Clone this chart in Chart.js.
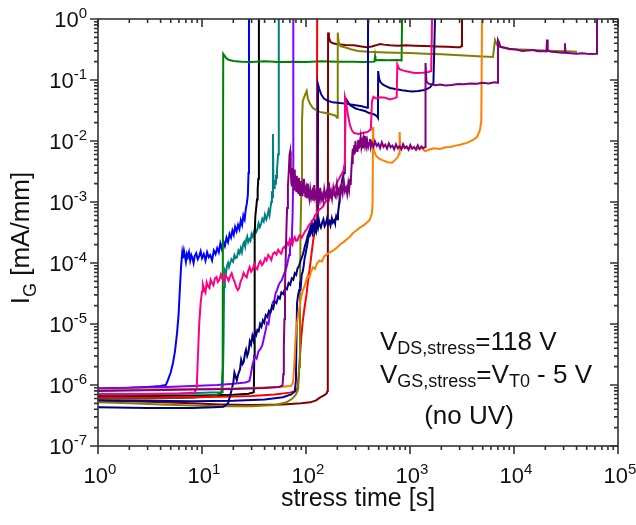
<!DOCTYPE html>
<html>
<head>
<meta charset="utf-8">
<script src="https://cdn.jsdelivr.net/npm/chart.js@4.4.1/dist/chart.umd.min.js"></script>
<style>
	html, body { margin: 0; padding: 0; background: #fff; }
</style>
</head>
<body>
<canvas id="myChart" width="636" height="525"></canvas>
<script>
// gate current vs. stress time, one [t (s), I_G (mA/mm)] list per device
const runBlue = [[1, 8.8e-7], [1.5, 8.9e-7], [2, 9.0e-7], [3, 9.3e-7], [4, 9.6e-7], [4.5, 1.0e-6], [4.7, 1.2e-6], [5.0, 1.6e-6], [5.26, 2.3e-6], [5.5, 3.6e-6], [5.75, 7e-6], [5.95, 1.4e-5], [6.14, 4e-5], [6.3, 9e-5], [6.45, 1.45e-4], [6.55, 1.2e-4], [6.7, 1.6e-4], [6.85, 1.3e-4], [7.0, 1.05e-4], [7.15, 1.4e-4], [7.3, 1.25e-4], [7.5, 1.5e-4], [7.7, 1.1e-4], [7.9, 1.35e-4], [8.1, 1.2e-4], [8.3, 1.0e-4], [8.5, 1.3e-4], [8.8, 1.45e-4], [9.1, 1.15e-4], [9.4, 1.3e-4], [9.7, 1.55e-4], [10.0, 1.2e-4], [10.4, 1.4e-4], [10.8, 1.1e-4], [11.2, 1.5e-4], [11.6, 1.25e-4], [12.0, 1.35e-4], [12.5, 1.1e-4], [13.0, 1.6e-4], [13.5, 1.4e-4], [14.0, 1.75e-4], [14.5, 1.5e-4], [15.0, 2.1e-4], [15.5, 1.7e-4], [16.0, 2.3e-4], [16.6, 1.9e-4], [17.2, 2.6e-4], [17.8, 2.2e-4], [18.4, 3.0e-4], [19.0, 2.6e-4], [19.6, 3.4e-4], [20.2, 2.9e-4], [20.8, 3.9e-4], [21.5, 3.3e-4], [22.2, 4.2e-4], [22.9, 3.6e-4], [23.6, 5.0e-4], [24.3, 4.2e-4], [25.0, 6.0e-4], [25.7, 5.2e-4], [26.4, 7.8e-4], [27.0, 9.5e-4], [27.6, 1.3e-3], [28.0, 3e-3], [28.3, 1]];
const runBlack = [[1, 6.6e-7], [3, 6.6e-7], [10, 6.7e-7], [20, 6.9e-7], [28, 7.2e-7], [31.5, 7.6e-7], [31.8, 3e-6], [32.0, 8e-5], [32.2, 3e-4], [32.6, 6e-4], [33.2, 8e-4], [33.8, 1.1e-3], [34.3, 1.6e-3], [34.8, 2.4e-3], [35.2, 5e-3], [35.3, 1]];
const runTeal = [[1, 7.2e-7], [3, 7.2e-7], [8, 7.3e-7], [12, 7.5e-7], [15.8, 7.6e-7], [16.1, 5e-6], [16.3, 4e-5], [16.6, 7.5e-5], [17.0, 6.8e-5], [17.4, 9.0e-5], [17.8, 1.0e-4], [18.2, 8.6e-5], [18.6, 9.8e-5], [19.2, 1.15e-4], [19.9, 1.05e-4], [20.5, 1.35e-4], [21.1, 1.2e-4], [21.7, 1.25e-4], [22.4, 1.6e-4], [23.0, 1.45e-4], [23.6, 1.75e-4], [24.2, 1.5e-4], [24.8, 2.0e-4], [25.4, 2.2e-4], [26.0, 1.85e-4], [26.6, 2.4e-4], [27.2, 2.7e-4], [27.8, 2.2e-4], [28.5, 2.45e-4], [29.2, 2.3e-4], [30.0, 3.0e-4], [30.8, 2.7e-4], [31.6, 3.2e-4], [32.3, 3.7e-4], [33.1, 3.2e-4], [34.0, 3.5e-4], [35.0, 4.5e-4], [36.0, 3.9e-4], [37.0, 4.4e-4], [38.0, 5.3e-4], [39.2, 4.8e-4], [40.3, 6.2e-4], [41.5, 5.2e-4], [42.6, 6.0e-4], [43.6, 7.2e-4], [44.6, 6.1e-4], [45.5, 8.0e-4], [46.3, 1.0e-3], [47.0, 1.5e-3], [47.6, 1.2e-3], [48.1, 1.3e-2], [48.6, 2e-3], [49.3, 1.7e-3], [50.0, 2.3e-3], [50.7, 2.0e-3], [51.4, 2.8e-3], [52.0, 2.5e-3], [52.6, 3.5e-3], [53.2, 4.2e-3], [53.8, 6e-3], [54.5, 9e-3], [55.0, 1]];
const runGreen = [[1, 6.0e-7], [3, 6.0e-7], [8, 6.2e-7], [13, 6.6e-7], [15.4, 7.5e-7], [15.8, 2e-6], [16.0, 0.27], [16.4, 0.255], [17.0, 0.23], [18.0, 0.215], [20, 0.205], [24, 0.2], [30, 0.198], [40, 0.202], [55, 0.197], [75, 0.2], [100, 0.198], [140, 0.202], [200, 0.199], [280, 0.2], [360, 0.198], [455, 0.2], [461, 0.245], [466, 0.21], [520, 0.212], [620, 0.21], [740, 0.212], [830, 0.21], [838, 1]];
const runViolet = [[1, 8.8e-7], [2, 9.0e-7], [4, 9.2e-7], [8, 9.6e-7], [14, 1.0e-6], [20, 1.05e-6], [26, 1.1e-6], [28.5, 1.15e-6], [29.5, 1.5e-6], [30.5, 2.1e-6], [31.5, 2.6e-6], [32.3, 2.9e-6], [33.5, 2.7e-6], [35, 3.6e-6], [36.5, 3.9e-6], [38, 4.5e-6], [39.5, 6e-6], [41, 8e-6], [42.2, 1.05e-5], [43.6, 1.0e-5], [45.1, 1.5e-5], [46.6, 1.7e-5], [48, 2.3e-5], [49.5, 2.4e-5], [51, 3.2e-5], [52.6, 3.6e-5], [54.5, 4.3e-5], [56.2, 4.8e-5], [58.5, 5.2e-5], [61.4, 6.6e-5], [63.5, 7.5e-5], [65.5, 9e-5], [67.1, 1.1e-4], [68.8, 1.35e-4], [70.1, 1.7e-4], [71.8, 2.3e-4], [73.3, 3.0e-4], [74.3, 6e-4], [75.2, 2e-3], [75.5, 1]];
const runPink = [[1, 7.0e-7], [2, 7.0e-7], [4, 7.1e-7], [6, 7.2e-7], [8.5, 7.5e-7], [8.9, 9e-7], [9.1, 2.5e-6], [9.4, 1.0e-5], [9.7, 2.2e-5], [10.0, 3.4e-5], [10.2, 4.4e-5], [10.5, 3.7e-5], [10.8, 3.3e-5], [11.1, 4.8e-5], [11.4, 4.2e-5], [11.8, 3.9e-5], [12.1, 5.3e-5], [12.5, 4.7e-5], [12.9, 4.3e-5], [13.3, 5.6e-5], [13.8, 5.9e-5], [14.2, 4.9e-5], [14.7, 5.3e-5], [15.2, 6.5e-5], [15.7, 5.5e-5], [16.3, 5.0e-5], [16.8, 6.3e-5], [17.4, 5.8e-5], [18.0, 5.1e-5], [18.6, 6.0e-5], [19.3, 6.8e-5], [20.0, 5.5e-5], [20.7, 4.8e-5], [21.4, 4.0e-5], [22.1, 3.6e-5], [22.8, 3.9e-5], [23.5, 5.0e-5], [24.3, 5.6e-5], [25.1, 6.9e-5], [26.0, 6.2e-5], [26.9, 5.8e-5], [27.8, 7.4e-5], [28.7, 8.6e-5], [29.7, 7.2e-5], [30.7, 7.8e-5], [31.8, 9.6e-5], [32.9, 8.3e-5], [34.0, 7.9e-5], [35.2, 9.8e-5], [36.4, 1.08e-4], [37.7, 9.2e-5], [39.0, 1.0e-4], [40.4, 1.2e-4], [41.8, 1.1e-4], [43.3, 1.35e-4], [44.8, 1.25e-4], [46.4, 1.12e-4], [48.0, 1.4e-4], [50.0, 1.5e-4], [52.0, 1.38e-4], [54.0, 1.65e-4], [56.0, 1.5e-4], [58.0, 1.42e-4], [60.0, 1.75e-4], [62.0, 1.85e-4], [64.0, 1.7e-4], [66.0, 2.15e-4], [68.0, 2.0e-4], [70.0, 2.45e-4], [72.0, 2.2e-4], [74.0, 2.0e-4], [76.0, 2.4e-4], [78.0, 2.65e-4], [80.5, 2.3e-4], [83.0, 2.35e-4], [85.5, 2.75e-4], [88.0, 2.85e-4], [91.0, 2.6e-4], [95.0, 3.0e-4], [98.0, 3.3e-4], [102, 3.6e-4], [106, 4.1e-4], [110, 4.4e-4], [114, 4.9e-4], [118, 5.2e-4], [122, 6.0e-4], [127, 6.5e-4], [131, 7.2e-4], [136, 7.6e-4], [141, 8.0e-4], [146, 8.5e-4], [152, 9.8e-4], [158, 1.05e-3], [164, 1.12e-3], [170, 1.2e-3], [176, 1.38e-3], [182, 1.5e-3], [188, 1.7e-3], [195, 1.9e-3], [202, 2.2e-3], [208, 2.4e-3], [213, 2.6e-3], [218, 2.8e-3], [223, 3.0e-3], [227, 3.2e-3], [231, 3.6e-3], [234, 4.0e-3], [237, 0.052], [242, 0.045], [252, 0.028], [265, 0.018], [276, 0.015], [290, 0.0135], [320, 0.013], [350, 0.0135], [390, 0.014], [420, 0.0155], [431, 0.045], [445, 0.053], [470, 0.05], [520, 0.052], [580, 0.051], [642, 0.048], [700, 0.05], [745, 0.052], [755, 0.18], [790, 0.15], [900, 0.14], [1100, 0.13], [1334, 0.131], [1500, 0.135], [1600, 0.14], [1629, 1]];
const runPurple = [[1, 8.0e-7], [3, 8.2e-7], [8, 8.4e-7], [20, 8.6e-7], [40, 8.9e-7], [55, 9.3e-7], [59.5, 9.8e-7], [60.5, 1.5e-6], [61.2, 4e-6], [62, 1.2e-5], [62.8, 4e-5], [63.8, 1.2e-4], [64.8, 3.5e-4], [65.8, 8e-4], [67, 1.8e-3], [68.3, 3.2e-3], [69.5, 6e-3], [70.5, 6.8e-3], [71.0, 3.0e-3], [71.6, 4.1e-3], [72.1, 2.2e-3], [72.8, 2.9e-3], [73.3, 1.8e-3], [74.0, 3.6e-3], [74.6, 2.4e-3], [75.2, 2.0e-3], [76.0, 2.8e-3], [76.7, 1.6e-3], [77.5, 2.3e-3], [78.2, 3.4e-3], [79.0, 1.9e-3], [79.8, 2.2e-3], [80.7, 1.5e-3], [81.6, 2.7e-3], [82.5, 1.7e-3], [83.4, 2.0e-3], [84.4, 1.4e-3], [85.4, 2.5e-3], [86.5, 1.6e-3], [87.6, 1.3e-3], [88.7, 2.2e-3], [90, 1.5e-3], [91.3, 1.8e-3], [92.6, 1.25e-3], [94, 2.4e-3], [95.5, 1.4e-3], [97, 1.7e-3], [98.6, 1.2e-3], [100.3, 1.55e-3], [102, 1.15e-3], [104, 2.0e-3], [106, 1.3e-3], [108, 1.1e-3], [110, 1.6e-3], [112.5, 1.2e-3], [115, 1.45e-3], [117.5, 1.05e-3], [120, 1.9e-3], [122.5, 1.2e-3], [125, 1.4e-3], [128, 1.0e-3], [131, 1.5e-3], [134, 1.15e-3], [137, 1.7e-3], [140, 1.1e-3], [143, 1.3e-3], [146.5, 1.05e-3], [150, 1.6e-3], [154, 1.2e-3], [158, 1.45e-3], [162, 1.1e-3], [166, 2.1e-3], [170, 1.25e-3], [174, 1.5e-3], [178, 1.15e-3], [183, 1.7e-3], [188, 1.3e-3], [193, 1.2e-3], [198, 1.9e-3], [203, 1.35e-3], [208, 1.6e-3], [213, 1.2e-3], [219, 1.8e-3], [225, 1.4e-3], [231, 2.2e-3], [237, 1.5e-3], [243, 1.7e-3], [249, 1.35e-3], [255, 2.0e-3], [260, 1.6e-3], [265, 2.4e-3], [269, 1.9e-3], [273, 3.4e-3], [277, 5.0e-3], [280, 4.2e-3], [283, 7.5e-3], [287, 5.8e-3], [291, 8.6e-3], [295, 6.2e-3], [299, 1.0e-2], [303, 7.0e-3], [308, 8.4e-3], [313, 6.6e-3], [318, 1.05e-2], [323, 7.5e-3], [329, 9.0e-3], [335, 1.15e-2], [341, 8.0e-3], [347, 9.6e-3], [353, 7.6e-3], [360, 1.1e-2], [367, 8.8e-3], [374, 1.2e-2], [381, 8.4e-3], [388, 1.0e-2], [396, 8.0e-3], [404, 9.2e-3], [412, 1.08e-2], [420, 7.9e-3], [430, 9.4e-3], [445, 8.1e-3], [460, 9.9e-3], [478, 8.3e-3], [497, 9.0e-3], [516, 7.7e-3], [536, 9.5e-3], [557, 8.0e-3], [579, 8.7e-3], [602, 7.5e-3], [626, 9.1e-3], [651, 7.9e-3], [677, 8.4e-3], [704, 7.3e-3], [732, 8.8e-3], [762, 7.6e-3], [793, 8.2e-3], [825, 7.3e-3], [858, 8.9e-3], [893, 7.7e-3], [930, 8.1e-3], [968, 7.2e-3], [1008, 8.6e-3], [1050, 7.5e-3], [1095, 8.0e-3], [1140, 7.2e-3], [1188, 8.5e-3], [1238, 7.4e-3], [1290, 8.1e-3], [1345, 7.6e-3], [1400, 8.0e-3], [1410, 0.19], [1440, 0.095], [1500, 0.087], [1600, 0.085], [1750, 0.082], [1950, 0.084], [2200, 0.081], [2500, 0.083], [2900, 0.086], [3300, 0.085], [3800, 0.088], [4400, 0.087], [5000, 0.09], [5700, 0.088], [6500, 0.092], [6950, 0.09], [7016, 0.45], [7150, 0.42], [7400, 0.35], [8000, 0.34], [9000, 0.325], [10500, 0.315], [12000, 0.3], [13500, 0.305], [15230, 0.31], [17000, 0.295], [19000, 0.3], [20500, 0.295], [20770, 0.46], [21100, 0.3], [23000, 0.29], [26000, 0.285], [29000, 0.28], [30600, 0.28], [30900, 0.4], [31300, 0.28], [35000, 0.275], [40000, 0.27], [45000, 0.275], [50000, 0.27], [56000, 0.268], [61500, 0.27], [62800, 1]];
const runOlive = [[1, 5.2e-7], [2, 5.0e-7], [4, 4.8e-7], [8, 4.6e-7], [15, 4.5e-7], [30, 4.5e-7], [50, 4.7e-7], [65, 5.2e-7], [74, 6.0e-7], [80, 7.0e-7], [84, 8.5e-7], [86, 2e-6], [87.5, 3e-5], [88.5, 3e-4], [90, 1.3e-3], [91.5, 0.02], [93, 0.045], [97, 0.055], [101.6, 0.066], [104, 0.05], [109, 0.041], [116, 0.035], [125, 0.032], [135, 0.030], [150, 0.029], [165, 0.028], [180, 0.027], [192, 0.026], [199, 0.024], [202, 0.6], [206, 0.42], [214, 0.36], [240, 0.34], [270, 0.32], [316, 0.30], [400, 0.29], [500, 0.285], [700, 0.28], [1000, 0.277], [1400, 0.27], [2000, 0.265], [3000, 0.255], [4500, 0.245], [6280, 0.238], [6567, 0.45], [6900, 0.37], [7333, 0.35], [9000, 0.32], [12000, 0.315], [15230, 0.31], [19000, 0.305], [25000, 0.3], [32000, 0.295], [40360, 0.29]];
const runOrange = [[1, 8.2e-7], [3, 8.4e-7], [8, 8.6e-7], [20, 8.8e-7], [40, 9.1e-7], [60, 9.4e-7], [72, 9.7e-7], [75, 1.1e-6], [77, 2e-6], [79, 5e-6], [81, 9e-6], [84, 1.4e-5], [87.5, 2.1e-5], [90, 2.8e-5], [93.6, 3.6e-5], [97, 4.2e-5], [100, 5.0e-5], [104, 6.2e-5], [108, 5.8e-5], [112, 7.3e-5], [117, 8.5e-5], [122, 8.0e-5], [128, 1.0e-4], [135, 1.1e-4], [142, 1.05e-4], [150, 1.3e-4], [160, 1.4e-4], [170, 1.5e-4], [182, 1.6e-4], [199, 1.8e-4], [215, 2.05e-4], [230, 2.2e-4], [250, 2.5e-4], [265, 2.7e-4], [283, 3.1e-4], [305, 3.4e-4], [330, 3.8e-4], [355, 4.1e-4], [386, 4.6e-4], [410, 5.1e-4], [431, 6.6e-4], [437, 1.0e-3], [441, 0.017], [444, 0.008], [452, 0.0068], [470, 0.0058], [500, 0.0052], [550, 0.0048], [610, 0.0045], [671, 0.0044], [720, 0.0049], [767, 0.0055], [785, 0.0062], [795, 0.014], [805, 0.0078], [838, 0.0076], [900, 0.0079], [980, 0.0074], [1060, 0.0078], [1167, 0.0073], [1280, 0.0077], [1400, 0.0068], [1520, 0.0072], [1700, 0.0076], [1942, 0.0074], [2200, 0.0079], [2425, 0.0080], [2750, 0.0084], [3025, 0.0087], [3535, 0.0093], [4035, 0.0104], [4407, 0.0116], [4711, 0.0152], [4850, 0.022], [4925, 1]];
const runRed = [[1, 6.2e-7], [3, 6.2e-7], [8, 6.3e-7], [15, 6.4e-7], [30, 6.6e-7], [50, 7.0e-7], [70, 7.5e-7], [80, 8.0e-7], [83, 9e-7], [85, 1.4e-6], [87.5, 3e-6], [90, 6e-6], [93, 1.1e-5], [97, 1.9e-5], [101, 3.0e-5], [104.5, 5e-5], [108, 7.5e-5], [111, 1.1e-4], [114, 1.6e-4], [117, 2.3e-4], [121, 3.2e-4], [125, 4.8e-4], [127, 9e-4], [128, 1]];
const runMaroon = [[1, 5.5e-7], [3, 5.3e-7], [8, 5.0e-7], [15, 4.8e-7], [30, 4.7e-7], [60, 4.8e-7], [90, 5.0e-7], [110, 5.2e-7], [125, 5.6e-7], [136, 6.2e-7], [150, 6.8e-7], [158, 7.3e-7], [161, 8e-7], [162, 1e-5], [163, 0.6], [166, 0.5], [172, 0.42], [182, 0.4], [200, 0.385], [240, 0.375], [290, 0.37], [340, 0.355], [386, 0.345], [430, 0.355], [470, 0.37], [515, 0.39], [560, 0.38], [640, 0.37], [760, 0.365], [900, 0.37], [1100, 0.365], [1400, 0.36], [1800, 0.355], [2300, 0.35], [2800, 0.345], [3050, 0.345], [3120, 0.36], [3162, 1]];
const runNavyA = [[1, 4.3e-7], [3, 4.2e-7], [8, 4.2e-7], [13, 4.3e-7], [16, 4.4e-7], [17.8, 5.0e-7], [19, 7.5e-7], [20, 1.1e-6], [20.5, 1.6e-6], [21, 1.4e-6], [21.6, 1.2e-6], [22.3, 1.5e-6], [23.2, 1.8e-6], [23.8, 2.6e-6], [24.5, 2.2e-6], [25.2, 2.4e-6], [25.9, 3.3e-6], [26.5, 3.8e-6], [27.2, 3.0e-6], [28.0, 3.5e-6], [28.8, 5.2e-6], [29.6, 4.6e-6], [30.5, 6.4e-6], [31.3, 5.4e-6], [32.3, 7.4e-6], [33.2, 6.6e-6], [34.1, 8.0e-6], [35.1, 7.6e-6], [36.2, 1.0e-5], [37.3, 9.0e-6], [38.5, 1.15e-5], [39.7, 1.05e-5], [41, 1.4e-5], [42.5, 1.3e-5], [44, 1.65e-5], [45.5, 1.55e-5], [47, 1.95e-5], [48.5, 1.8e-5], [50, 2.35e-5], [52, 2.2e-5], [54, 2.8e-5], [56, 2.6e-5], [58, 3.3e-5], [60.5, 3.1e-5], [63, 3.9e-5], [65.5, 3.7e-5], [68, 4.7e-5], [70.5, 4.4e-5], [73, 5.6e-5], [75.5, 5.3e-5], [78, 6.8e-5], [80.5, 6.4e-5], [83, 8.2e-5], [85.5, 8.8e-5], [88, 1.05e-4], [90.5, 1.2e-4], [93, 1.35e-4], [95.5, 1.6e-4], [98, 1.95e-4], [100.5, 2.2e-4], [103, 2.7e-4], [105.5, 3.0e-4], [108, 3.4e-4], [110.5, 3.9e-4], [113, 4.4e-4], [115.5, 3.5e-4], [118, 3.9e-4], [121, 4.7e-4], [124, 3.6e-4], [127, 4.2e-4], [130, 3.7e-4], [133, 5.0e-4], [136, 4.1e-4], [139, 3.8e-4], [143, 4.6e-4], [147, 5.2e-4], [151, 4.0e-4], [155, 4.4e-4], [159, 5.3e-4], [163, 4.3e-4], [168, 4.8e-4], [172, 4.1e-4], [177, 5.4e-4], [181, 4.6e-4], [186, 5.0e-4], [190, 4.5e-4], [195, 5.8e-4], [199, 5.2e-4], [203, 6.5e-4], [207, 8.5e-4], [212, 1.3e-3], [216, 1.7e-3], [220, 2.0e-3], [224, 2.4e-3], [228, 2.7e-3], [232, 3.0e-3], [236, 3.2e-3], [240, 0.05], [248, 0.046], [258, 0.041], [270, 0.038], [285, 0.036], [300, 0.034], [320, 0.033], [345, 0.032], [370, 0.031], [400, 0.029], [430, 0.028], [460, 0.027], [485, 0.025], [492, 0.024], [494, 0.14], [505, 0.105], [520, 0.092], [550, 0.084], [600, 0.078], [642, 0.074], [720, 0.071], [838, 0.068], [950, 0.066], [1045, 0.065], [1200, 0.066], [1334, 0.068], [1450, 0.071], [1560, 0.076], [1680, 0.09], [1739, 1]];
const runNavyB = [[1, 5.6e-7], [3, 5.5e-7], [8, 5.4e-7], [20, 5.5e-7], [40, 5.8e-7], [60, 6.3e-7], [72, 7.0e-7], [78, 7.8e-7], [80, 1.2e-6], [81, 6e-6], [82, 2.2e-5], [84, 3.0e-5], [86, 3.6e-5], [87.5, 4.3e-5], [89, 4.0e-5], [91, 6.5e-5], [93, 7.2e-5], [95, 9e-5], [97, 1.2e-4], [99, 1.4e-4], [101, 1.7e-4], [103, 2.0e-4], [105, 2.5e-4], [107, 2.8e-4], [109, 3.3e-4], [111, 3.8e-4], [113, 3.2e-4], [115, 3.0e-4], [117, 4.1e-4], [119, 3.7e-4], [121, 3.3e-4], [124, 4.3e-4], [126, 3.5e-4], [128, 4.2e-4], [130, 3.6e-4], [130.5, 0.085], [134, 0.072], [140, 0.058], [148, 0.05], [160, 0.046], [180, 0.043], [210, 0.042], [240, 0.041], [290, 0.039], [345, 0.037], [386, 0.035], [394, 0.036], [395, 1]];

// axis decades, drawn as 10^n
const xExponents = [0, 1, 2, 3, 4, 5];
const yExponents = [-7, -6, -5, -4, -3, -2, -1, 0];

const runs = [
	[runPurple, '#800080'],
	[runOrange, '#ff8000'],
	[runPink, '#ff0080'],
	[runNavyA, '#000080'],
	[runNavyB, '#00009a'],
	[runOlive, '#808000'],
	[runMaroon, '#800000'],
	[runRed, '#ff0000'],
	[runViolet, '#8000ff'],
	[runGreen, '#008000'],
	[runBlack, '#000000'],
	[runTeal, '#008080'],
	[runBlue, '#0000ff']
];

const FONT = '"Liberation Sans", Arial, sans-serif';

function richText(c, parts, x, y) {
	// parts: [text, size, baseline shift]
	let cx = x;
	parts.forEach(p => {
		c.font = p[1] + 'px ' + FONT;
		c.fillText(p[0], cx, y + p[2]);
		cx += c.measureText(p[0]).width;
	});
	return cx - x;
}

function richWidth(c, parts) {
	let w = 0;
	parts.forEach(p => {
		c.font = p[1] + 'px ' + FONT;
		w += c.measureText(p[0]).width;
	});
	return w;
}

function powerParts(e) {
	return [['10', 22, 0], [String(e), 15, -9]];
}

const axesPlugin = {
	id: 'axesPlugin',
	afterDraw(chart) {
		const c = chart.ctx;
		const a = chart.chartArea;
		const xs = chart.scales.x;
		const ys = chart.scales.y;
		c.save();
		c.strokeStyle = '#333';
		c.lineWidth = 1.6;
		c.strokeRect(a.left, a.top, a.right - a.left, a.bottom - a.top);

		c.beginPath();
		xExponents.forEach((e, i) => {
			const v = Math.pow(10, e);
			const px = xs.getPixelForValue(v);
			c.moveTo(px, a.bottom); c.lineTo(px, a.bottom + 8);
			c.moveTo(px, a.top); c.lineTo(px, a.top + 8);
			if (i < xExponents.length - 1) {
				for (let k = 2; k < 10; k++) {
					const m = xs.getPixelForValue(k * v);
					c.moveTo(m, a.bottom); c.lineTo(m, a.bottom + 4);
					c.moveTo(m, a.top); c.lineTo(m, a.top + 4);
				}
			}
		});
		yExponents.forEach((e, i) => {
			const v = Math.pow(10, e);
			const py = ys.getPixelForValue(v);
			c.moveTo(a.left, py); c.lineTo(a.left - 8, py);
			c.moveTo(a.right, py); c.lineTo(a.right - 8, py);
			if (i < yExponents.length - 1) {
				for (let k = 2; k < 10; k++) {
					const m = ys.getPixelForValue(k * v);
					c.moveTo(a.left, m); c.lineTo(a.left - 4, m);
					c.moveTo(a.right, m); c.lineTo(a.right - 4, m);
				}
			}
		});
		c.stroke();

		c.fillStyle = '#111';
		c.textAlign = 'left';
		c.textBaseline = 'alphabetic';

		// tick labels
		xExponents.forEach(e => {
			const px = xs.getPixelForValue(Math.pow(10, e));
			const parts = powerParts(e);
			richText(c, parts, px - richWidth(c, parts) / 2 + 2, a.bottom + 37);
		});
		yExponents.forEach(e => {
			const py = ys.getPixelForValue(Math.pow(10, e));
			const parts = powerParts(e);
			richText(c, parts, a.left - 11 - richWidth(c, parts), py + 8);
		});

		// axis titles
		c.font = '25px ' + FONT;
		c.textAlign = 'center';
		c.fillText('stress time [s]', (a.left + a.right) / 2, 506);
		c.textAlign = 'left';

		const yTitle = [['I', 26, 0], ['G', 18, 7], [' [mA/mm]', 26, 0]];
		c.save();
		c.translate(29, 238);
		c.rotate(-Math.PI / 2);
		richText(c, yTitle, -richWidth(c, yTitle) / 2, 0);
		c.restore();

		// stress conditions
		richText(c, [['V', 26, 0], ['DS,stress', 18, 4], ['=118 V', 26, 0]], 380, 350);
		richText(c, [['V', 26, 0], ['GS,stress', 18, 4], ['=V', 26, 0], ['T0', 18, 4], [' - 5 V', 26, 0]], 380, 383);
		const uv = [['(no UV)', 26, 0]];
		richText(c, uv, 469 - richWidth(c, uv) / 2, 424);
		c.restore();
	}
};

const ctx = document.getElementById('myChart');

new Chart(ctx, {
	type: 'line',
	data: {
		datasets: runs.map(r => ({
			data: r[0].map(p => ({ x: p[0], y: p[1] })),
			borderColor: r[1],
			backgroundColor: r[1],
			borderWidth: 2,
			pointRadius: 0,
			tension: 0,
			fill: false
		}))
	},
	options: {
		responsive: false,
		animation: false,
		devicePixelRatio: 1,
		layout: { padding: { left: 98, right: 18, top: 19, bottom: 79 } },
		plugins: { legend: { display: false }, tooltip: { enabled: false } },
		scales: {
			x: { type: 'logarithmic', min: 1, max: 100000, display: false },
			y: { type: 'logarithmic', min: 1e-7, max: 1, display: false }
		}
	},
	plugins: [axesPlugin]
});
</script>
</body>
</html>
